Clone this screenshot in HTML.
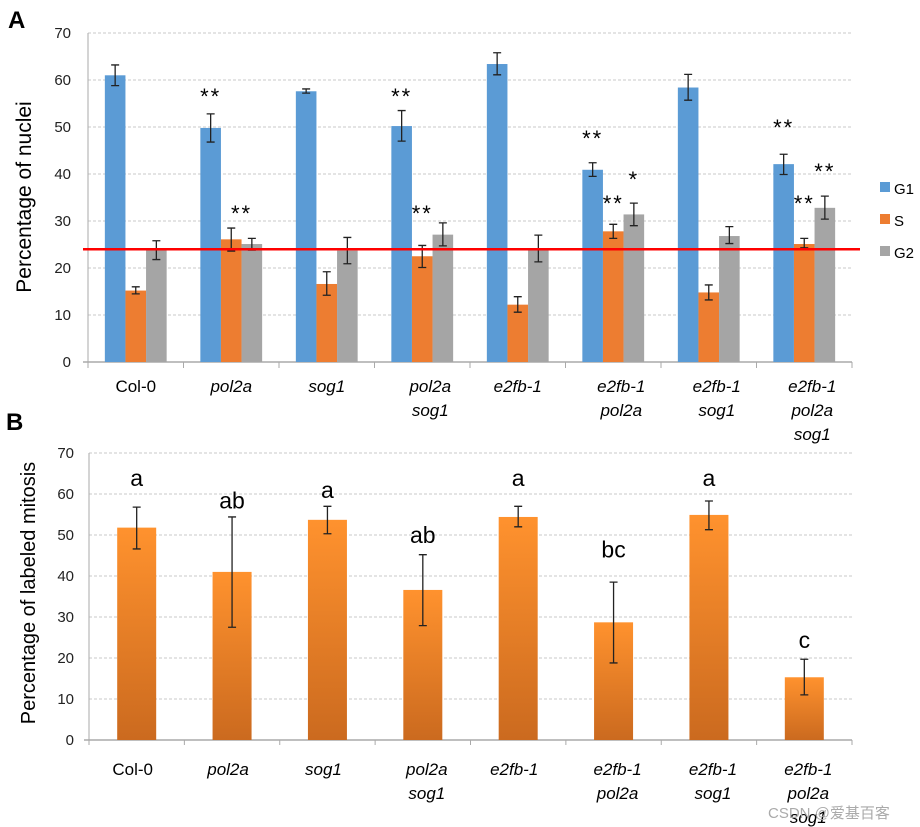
<!DOCTYPE html>
<html><head><meta charset="utf-8"><style>
body{margin:0;background:#fff;}
svg{display:block;font-family:"Liberation Sans",sans-serif;}
</style></head><body>
<svg id="fig" width="920" height="827" viewBox="0 0 920 827" xmlns="http://www.w3.org/2000/svg">
<defs><linearGradient id="og" x1="0" y1="0" x2="0" y2="1"><stop offset="0" stop-color="#FF922E"/><stop offset="1" stop-color="#CB6A1F"/></linearGradient></defs>
<text x="8" y="28" font-size="24" font-weight="bold">A</text>
<text x="6" y="430" font-size="24" font-weight="bold">B</text>
<g id="chartA"></g>
<g id="chartB"></g>
</svg>
<script>
const categoriesA=[["Col-0"],["pol2a"],["sog1"],["pol2a","sog1"],["e2fb-1"],["e2fb-1","pol2a"],["e2fb-1","sog1"],["e2fb-1","pol2a","sog1"]];
const seriesNames=["G1","S","G2"];
const g1Vals=[61,49.8,57.6,50.2,63.4,40.9,58.4,42.1];
const g1Lo=[58.8,46.8,57.2,47,61.1,39.5,55.7,39.9];
const g1Hi=[63.2,52.8,58.1,53.5,65.8,42.4,61.2,44.2];
const sVals=[15.2,26.1,16.6,22.5,12.2,27.8,14.8,25.1];
const sLo=[14.5,23.6,14.2,20.1,10.6,26.3,13.2,24.3];
const sHi=[16,28.5,19.2,24.8,13.9,29.3,16.4,26.3];
const g2Vals=[23.8,25.1,23.7,27.1,23.9,31.4,26.8,32.8];
const g2Lo=[21.8,23.8,20.9,24.7,21.3,29,25.2,30.4];
const g2Hi=[25.8,26.3,26.5,29.6,27,33.8,28.8,35.3];
const refLine=24;
const starGroups=[1,1,3,3,5,5,5,7,7,7];
const starSeries=[0,1.5,0,1,0,1,2,0,1,2];
const starVals=[57.2,32.3,57.2,32.3,48.3,34.5,39.6,50.6,34.5,41.3];
const starText=["**","**","**","**","**","**","*","**","**","**"];
const ticksA=[0,10,20,30,40,50,60,70];

const mitVals=[51.8,41,53.7,36.6,54.4,28.7,54.9,15.3];
const mitLo=[46.6,27.5,50.3,27.9,52,18.8,51.3,11];
const mitHi=[56.8,54.4,57,45.2,57,38.5,58.3,19.7];
const letters=["a","ab","a","ab","a","bc","a","c"];
const letterVals=[62,56.5,59,48,62,44.5,62,22.5];
const ticksB=[0,10,20,30,40,50,60,70];

const NS="http://www.w3.org/2000/svg";
function mk(p,tag,attrs,txt){const e=document.createElementNS(NS,tag);for(const k in attrs)e.setAttribute(k,attrs[k]);if(txt!==undefined)e.textContent=txt;p.appendChild(e);return e;}

// Chart A
(function(){
const g=document.getElementById('chartA');
const L=88,R=852,Y0=362,Y70=33;
const y=v=>Y0-(Y0-Y70)*v/70;
const gw=(R-L)/categoriesA.length, bw=20.6;
const cx=(i,s)=>L+gw*i+gw/2+(s-1)*bw;
ticksA.forEach(t=>{
 if(t>0){const l=mk(g,'line',{x1:L,x2:R,y1:y(t),y2:y(t),stroke:'#c8c8c8','stroke-dasharray':'3,2'});
 }
 const tx=mk(g,'text',{x:71,y:y(t)+5,'font-size':15,'text-anchor':'end',fill:'#222'},t);
 
});
const ax=mk(g,'line',{x1:L,x2:L,y1:Y70,y2:Y0+4,stroke:'#aaa'});
const bx=mk(g,'line',{x1:L-5,x2:R,y1:Y0,y2:Y0,stroke:'#aaa','stroke-width':1.5});
for(let i=0;i<=categoriesA.length;i++){const t=mk(g,'line',{x1:L+gw*i,x2:L+gw*i,y1:Y0,y2:Y0+6,stroke:'#aaa'});}
const vals=[g1Vals,sVals,g2Vals],lo=[g1Lo,sLo,g2Lo],hi=[g1Hi,sHi,g2Hi],cols=['#5B9BD5','#ED7D31','#A5A5A5'];
categoriesA.forEach((c,i)=>{
 for(let s=0;s<3;s++){
  const r=mk(g,'rect',{x:cx(i,s)-bw/2,y:y(vals[s][i]),width:bw,height:Y0-y(vals[s][i]),fill:cols[s]});
  
  const x=cx(i,s);
  const e=mk(g,'path',{d:`M${x},${y(lo[s][i])}V${y(hi[s][i])}M${x-4},${y(lo[s][i])}h8M${x-4},${y(hi[s][i])}h8`,stroke:'#222','stroke-width':1.3,fill:'none'});
  
 }
 c.forEach((ln,k)=>{const t=mk(g,'text',{x:L+gw*i+gw/2+(c.length>1?8:0),y:392+k*24,'font-size':17,'text-anchor':'middle','font-style':i===0?'normal':'italic'},ln);
 });
});
const rl=mk(g,'line',{x1:L-5,x2:860,y1:y(refLine),y2:y(refLine),stroke:'#FF0000','stroke-width':2.5});
starGroups.forEach((gi,k)=>{const t=mk(g,'text',{x:cx(gi,starSeries[k]),y:y(starVals[k])+11,'font-size':22,'text-anchor':'middle','letter-spacing':'2'},starText[k]);
 });
const yt=mk(g,'text',{transform:'translate(31,197) rotate(-90)','font-size':21,'text-anchor':'middle'},'Percentage of nuclei');

seriesNames.forEach((n,s)=>{
 const r=mk(g,'rect',{x:880,y:182+s*32,width:10,height:10,fill:cols[s]});
 const t=mk(g,'text',{x:894,y:194+s*32,'font-size':15},n);
});
})();

// Chart B
(function(){
const g=document.getElementById('chartB');
const L=89,R=852,Y0=740,Y70=453;
const y=v=>Y0-(Y0-Y70)*v/70;
const gw=(R-L)/categoriesA.length, bw=39;
ticksB.forEach(t=>{
 if(t>0){const l=mk(g,'line',{x1:L,x2:R,y1:y(t),y2:y(t),stroke:'#c8c8c8','stroke-dasharray':'3,2'});
 }
 const tx=mk(g,'text',{x:74,y:y(t)+5,'font-size':15,'text-anchor':'end',fill:'#222'},t);
 
});
const ax=mk(g,'line',{x1:L,x2:L,y1:Y70,y2:Y0+4,stroke:'#aaa'});
const bx=mk(g,'line',{x1:L-5,x2:R,y1:Y0,y2:Y0,stroke:'#aaa','stroke-width':1.5});
for(let i=0;i<=categoriesA.length;i++){const t=mk(g,'line',{x1:L+gw*i,x2:L+gw*i,y1:Y0,y2:Y0+5,stroke:'#aaa'});}
categoriesA.forEach((c,i)=>{
 const x=L+gw*i+gw/2;
 const r=mk(g,'rect',{x:x-bw/2,y:y(mitVals[i]),width:bw,height:Y0-y(mitVals[i]),fill:'url(#og)'});
 
 const e=mk(g,'path',{d:`M${x},${y(mitLo[i])}V${y(mitHi[i])}M${x-4},${y(mitLo[i])}h8M${x-4},${y(mitHi[i])}h8`,stroke:'#222','stroke-width':1.3,fill:'none'});
 
 const lt=mk(g,'text',{x:x,y:y(letterVals[i]),'font-size':23,'text-anchor':'middle'},letters[i]);
 
 c.forEach((ln,k)=>{const t=mk(g,'text',{x:x+(c.length>1?4:-4),y:775+k*24,'font-size':17,'text-anchor':'middle','font-style':i===0?'normal':'italic'},ln);
 });
});
const yt=mk(g,'text',{transform:'translate(35,593) rotate(-90)','font-size':20,'text-anchor':'middle'},'Percentage of labeled mitosis');

const wm=mk(g,'text',{x:768,y:818,'font-size':15,fill:'#aaa',style:'font-family:"Liberation Sans","Noto Sans CJK SC",sans-serif'},'CSDN @爱基百客');

})();
</script>
</body></html>
